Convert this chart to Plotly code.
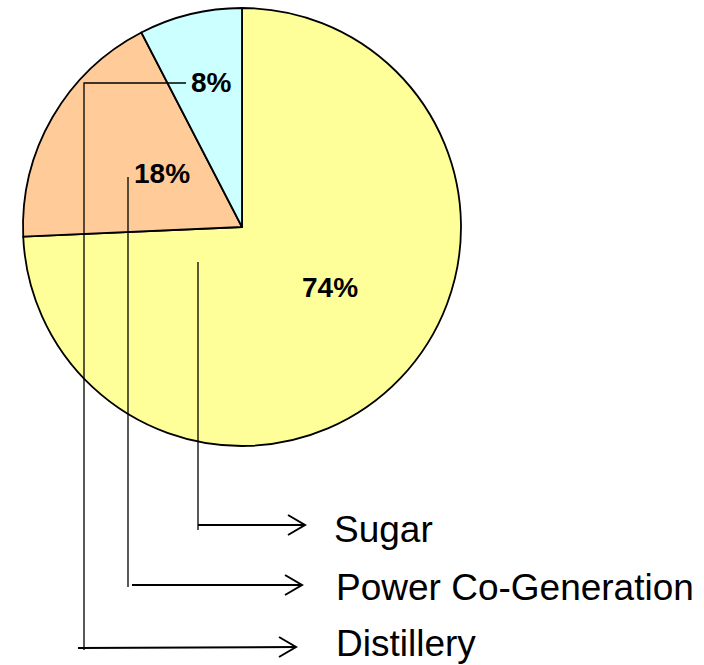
import plotly.graph_objects as go

# ---- data ----
categories = ["Sugar", "Power Co-Generation", "Distillery"]
shares = [74.3, 18.1, 7.6]
pct_labels = [f"{round(v)}%" for v in shares]
slice_colors = ["#FFFF99", "#FFCC99", "#CCFFFF"]

W, H = 704, 665
# pie geometry (pixels)
cx, cy, r = 242, 227, 219

fig = go.Figure()

fig.add_trace(go.Pie(
    labels=categories, values=shares, sort=False, direction="clockwise",
    rotation=0, textinfo="none", hoverinfo="label+percent",
    marker=dict(colors=slice_colors, line=dict(color="black", width=1.8)),
    domain=dict(x=[(cx - r) / W, (cx + r) / W], y=[1 - (cy + r) / H, 1 - (cy - r) / H]),
    showlegend=False,
))

# invisible pixel-space axes for leader lines and labels
fig.add_trace(go.Scatter(x=[0, W], y=[0, H], mode="markers",
                         marker=dict(opacity=0), hoverinfo="skip", showlegend=False))

# leader line routes (pixel layout), one per category
routes = {
    "Sugar": [(198, 262), (198, 530)],
    "Power Co-Generation": [(128, 177), (128, 587)],
    "Distillery": [(186, 83), (84, 83), (84, 650)],
}
arrows = {
    "Sugar": ((198, 525), (305, 525), 529),
    "Power Co-Generation": ((132, 585), (302, 585), 587),
    "Distillery": ((78, 648), (296, 647), 643),
}
label_x = {"Sugar": 332, "Power Co-Generation": 334, "Distillery": 334}
pct_pos = {"Sugar": (330, 287), "Power Co-Generation": (162, 173), "Distillery": (211, 82)}

shapes = []
annotations = []
for cat, lab in zip(categories, pct_labels):
    pts = routes[cat]
    path = "M " + " L ".join(f"{x},{y}" for x, y in pts)
    shapes.append(dict(type="path", path=path, xref="x", yref="y",
                       line=dict(color="black", width=1.3), layer="above"))
    (x0, y0), (x1, y1), ty = arrows[cat]
    shapes.append(dict(type="line", x0=x0, y0=y0, x1=x1, y1=y1, xref="x", yref="y",
                       line=dict(color="black", width=2), layer="above"))
    shapes.append(dict(type="path",
                       path=f"M {x1-17},{y1-10} L {x1},{y1} L {x1-17},{y1+10}",
                       xref="x", yref="y", line=dict(color="black", width=2), layer="above"))
    annotations.append(dict(x=label_x[cat], y=ty, xref="x", yref="y", text=cat, showarrow=False,
                            xanchor="left", yanchor="middle",
                            font=dict(family="Liberation Sans, Arial", size=37, color="black")))
    px, py = pct_pos[cat]
    annotations.append(dict(x=px, y=py, xref="x", yref="y", text=f"<b>{lab}</b>",
                            showarrow=False, xanchor="center", yanchor="middle",
                            font=dict(family="Liberation Sans, Arial", size=28, color="black")))

fig.update_layout(
    width=W, height=H, margin=dict(l=0, r=0, t=0, b=0),
    paper_bgcolor="white", plot_bgcolor="rgba(0,0,0,0)",
    xaxis=dict(range=[0, W], visible=False, fixedrange=True),
    yaxis=dict(range=[H, 0], visible=False, fixedrange=True),
    shapes=shapes, annotations=annotations, showlegend=False,
)

fig.write_html("out.html", config={"displayModeBar": False},
               post_script="document.body.style.margin='0';")
